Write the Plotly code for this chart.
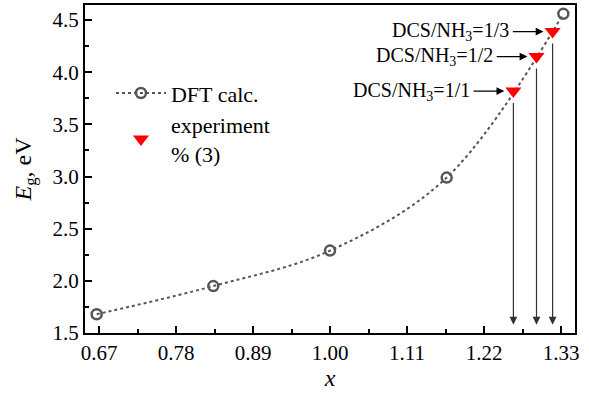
import plotly.graph_objects as go

# DFT calculation data
x_dft = [2/3, 5/6, 1.0, 7/6, 4/3]
eg_dft = [1.68, 1.95, 2.29, 2.99, 4.56]

# Experimental data
x_exp = [1.262, 1.295, 1.318]
eg_exp = [3.82, 4.15, 4.39]
exp_labels = ["DCS/NH<sub>3</sub>=1/1", "DCS/NH<sub>3</sub>=1/2", "DCS/NH<sub>3</sub>=1/3"]

x_ticks = [0.67, 0.78, 0.89, 1.00, 1.11, 1.22, 1.33]
x_tick_text = ["0.67", "0.78", "0.89", "1.00", "1.11", "1.22", "1.33"]
y_ticks = [1.5, 2.0, 2.5, 3.0, 3.5, 4.0, 4.5]

FONT = "Liberation Serif, Times New Roman, serif"
GRAY = "#555555"

fig = go.Figure()
fig.add_trace(go.Scatter(
    x=x_dft, y=eg_dft, mode="lines+markers", name="DFT calc.",
    line=dict(color=GRAY, width=2, dash="dot", shape="spline", smoothing=1.0),
    marker=dict(symbol="circle-open", size=10, color=GRAY, line=dict(width=2.5, color=GRAY)),
))
fig.add_trace(go.Scatter(
    x=x_exp, y=eg_exp, mode="markers", name="experiment<br>% (3)",
    marker=dict(symbol="triangle-down", size=14, color="#ff0000", line=dict(width=0)),
))

annotations = []
for xe, ye, lab in zip(x_exp, eg_exp, exp_labels):
    annotations.append(dict(
        x=xe, y=1.58, ax=xe, ay=ye - 0.1, xref="x", yref="y", axref="x", ayref="y",
        text="", showarrow=True, arrowhead=2, arrowsize=1.3, arrowwidth=1.2, arrowcolor="#333333",
    ))
    head = xe - 0.013
    tail = head - 0.046
    annotations.append(dict(
        x=head, y=ye, ax=tail, ay=ye, xref="x", yref="y", axref="x", ayref="y",
        text="", showarrow=True, arrowhead=2, arrowsize=1.3, arrowwidth=1.2, arrowcolor="#000000",
    ))
    annotations.append(dict(
        x=tail, y=ye, xref="x", yref="y", text=lab, showarrow=False,
        xanchor="right", yanchor="middle", font=dict(family=FONT, size=20, color="black"),
    ))
fig.update_layout(annotations=annotations)

axis_common = dict(
    showline=True, linecolor="black", linewidth=2, mirror=True,
    ticks="inside", ticklen=7, tickwidth=2, tickcolor="black",
    showgrid=False, zeroline=False, automargin=False,
    tickfont=dict(family=FONT, size=21, color="black"),
)
fig.update_xaxes(
    range=[0.65, 1.35], tickvals=x_ticks, ticktext=x_tick_text,
    minor=dict(ticks="inside", ticklen=4, tickwidth=1.5, tickcolor="black", dtick=0.055, tick0=0.67),
    title=dict(text="<i>x</i>", font=dict(family=FONT, size=24, color="black"), standoff=4),
    **axis_common,
)
fig.update_yaxes(
    range=[1.5, 4.645], tickvals=y_ticks, tickformat=".1f",
    minor=dict(ticks="inside", ticklen=4, tickwidth=1.5, tickcolor="black", dtick=0.25, tick0=1.5),
    title=dict(text="<i>E</i><sub>g</sub>, eV", font=dict(family=FONT, size=24, color="black"), standoff=14),
    **axis_common,
)
fig.update_layout(
    width=589, height=398,
    margin=dict(l=85, r=14, t=5, b=65, autoexpand=False),
    plot_bgcolor="white", paper_bgcolor="white",
    font=dict(family=FONT, size=20, color="black"),
    legend=dict(x=0.053, y=0.795, xanchor="left", yanchor="top", bgcolor="rgba(0,0,0,0)",
                font=dict(family=FONT, size=22, color="black"), itemwidth=50, tracegroupgap=0),
)
fig.write_html("out.html", config={"displayModeBar": False},
               post_script="document.body.style.margin='0';document.body.style.padding='0';")
